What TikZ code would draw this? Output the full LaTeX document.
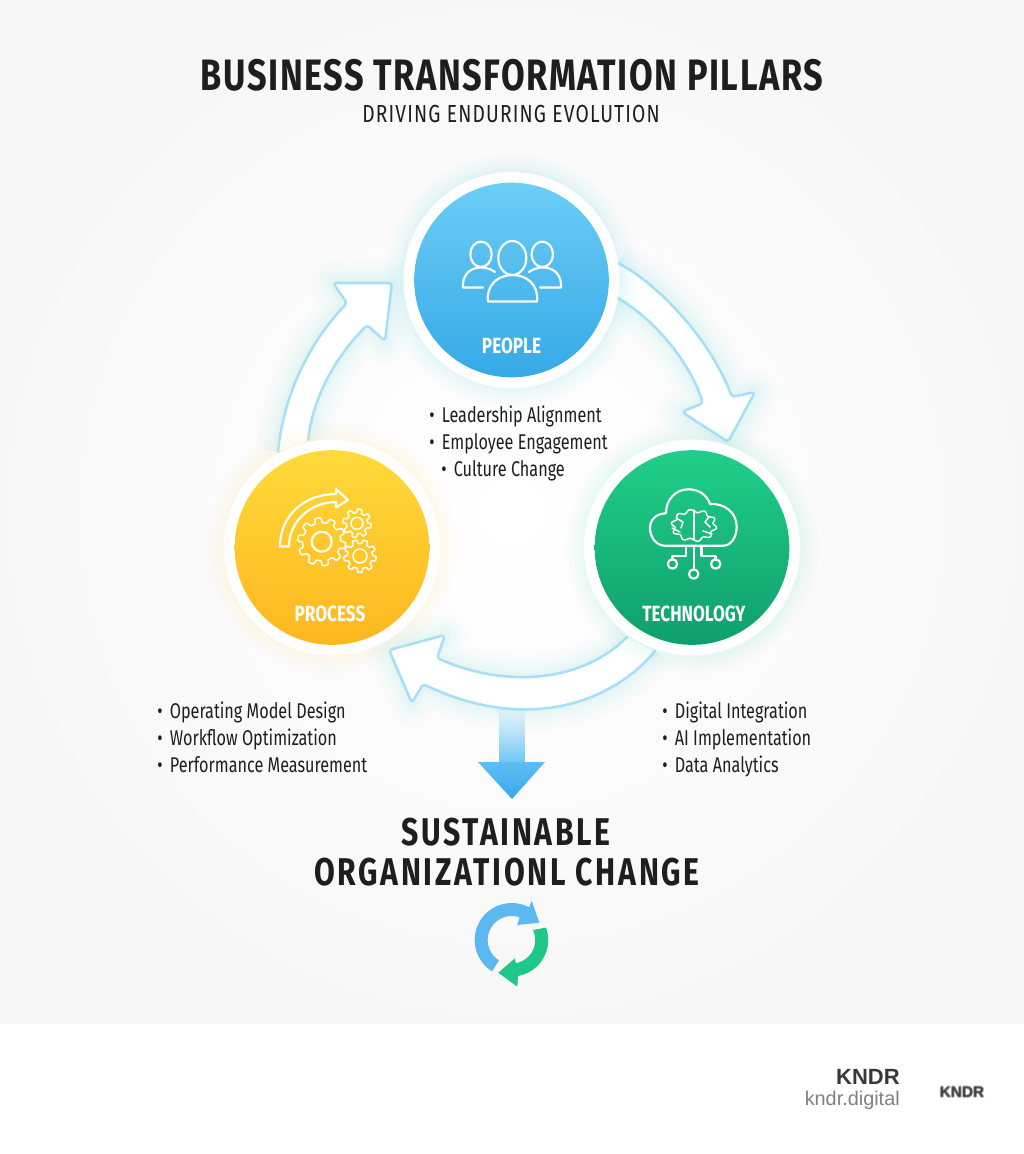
\documentclass[tikz,border=0pt]{standalone}
\usepackage{fontspec}
\setmainfont{Fira Sans}
\newfontfamily\condf[FakeStretch=0.78]{Fira Sans}
\newfontfamily\listf[FakeStretch=0.76]{Fira Sans}
\newfontfamily\brandf{Liberation Sans}
\usetikzlibrary{calc,fadings}
\definecolor{edgeblue}{HTML}{A6E0F6}
\definecolor{glowblue}{HTML}{8FE3F5}
\definecolor{inkdark}{HTML}{1E1E1E}
\definecolor{HTMLa}{HTML}{6CCDF6}
\definecolor{HTMLb}{HTML}{36A9E6}
\definecolor{HTMLc}{HTML}{FFDA3A}
\definecolor{HTMLd}{HTML}{FDB71F}
\definecolor{HTMLe}{HTML}{20CF88}
\definecolor{HTMLf}{HTML}{0F9F6C}
\definecolor{HTMLg}{HTML}{6CC6F5}
\definecolor{HTMLh}{HTML}{5FBEF3}
\definecolor{HTMLi}{HTML}{3AA8EA}
\definecolor{HTMLj}{HTML}{5BB9F0}
\definecolor{HTMLk}{HTML}{1FC888}
\tikzset{
  pillar/.style={circle,draw=none,minimum size=146pt,inner sep=0pt},
  ringn/.style={circle,draw=none,fill=white,minimum size=162pt,inner sep=0pt},
  pillarlabel/.style={text=white,font=\condf\fontsize{16.5}{18}\selectfont\bfseries,inner sep=0pt},
  listline/.style={anchor=base west,text=inkdark,font=\listf\fontsize{16}{18}\selectfont,inner sep=0pt},
  icon/.style={draw=white,line width=1.6pt,line join=round,line cap=round,fill=none},
  iconthin/.style={draw=white,line width=1.1pt,line join=round,line cap=round,fill=none},
  arrowedge/.style={draw=edgeblue,line width=1.9pt,line join=round,line cap=round},
}
\newcommand{\glowpath}[2]{%
  \foreach \wd/\op in {34/0.02,28/0.025,22/0.03,16/0.035,10/0.04,6/0.05}{
    \draw[#1,line width=\wd pt,opacity=\op,line join=round] #2;
  }}
\newcommand{\gearshape}[5]{% cx cy outer inner teeth
  \draw[iconthin] plot[domain=0:360,samples=#5*14,smooth cycle] ({#1+(#4+(#3-#4)*min(1,max(0,0.5+1.6*sin(#5*\x))))*cos(\x)},{#2+(#4+(#3-#4)*min(1,max(0,0.5+1.6*sin(#5*\x))))*sin(\x)});
}
\begin{document}
\begin{tikzpicture}[x=0.75pt,y=-0.75pt]
\useasboundingbox (0,0) rectangle (1024,1154);
\fill[white] (0,0) rectangle (1024,1154);
\shade[inner color=white,outer color=black!3!white,draw=none] (0,0) rectangle (1024,1023);

% ---------- block arrows
\def\arrowA{(618,263) .. controls (655,282) and (708,335) .. (732,397) -- (755,392) -- (728,442) -- (682,412) -- (703,403) .. controls (688,358) and (652,318) .. (618,298)}
\def\arrowB{(278,452) .. controls (284,390) and (312,340) .. (347,303) -- (333,283) -- (392,283) -- (385,341) -- (367,325) .. controls (338,355) and (314,392) .. (308,440)}
\def\arrowC{(655,651) .. controls (615,700) and (530,735) .. (423,684) -- (412,703) -- (389,650) -- (445,635) -- (437,658) .. controls (510,690) and (585,680) .. (627,637)}
\foreach \pth in {\arrowA,\arrowB,\arrowC}{
  \glowpath{glowblue}{\pth}
  \fill[white,rounded corners=2.5pt] \pth -- cycle;
  \draw[arrowedge,rounded corners=2.5pt] \pth;
}

% ---------- pillar circles
\foreach \cx/\cy/\gc in {511.5/280/8FE3F5,332/547.5/FFF0A8,692/547.5/9FEBD8}{
  \definecolor{gc}{HTML}{\gc}
  \foreach \wd/\op in {190/0.03,184/0.035,178/0.04,172/0.05,167/0.06}{
    \fill[gc,opacity=\op] (\cx,\cy) circle[radius=\wd*0.5pt];
  }
}
\node[ringn] (peoplering) at (511.5,280) {};
\node[ringn] (processring) at (332,547.5) {};
\node[ringn] (techring) at (692,547.5) {};
\node[pillar,top color=HTMLa,bottom color=HTMLb] (people) at (511.5,280) {};
\node[pillar,top color=HTMLc,bottom color=HTMLd] (process) at (332,547.5) {};
\node[pillar,top color=HTMLe,bottom color=HTMLf] (technology) at (692,547.5) {};

\node[pillarlabel] (peoplelabel) at (511.5,345.5) {PEOPLE};
\node[pillarlabel] (processlabel) at (330,613.5) {PROCESS};
\node[pillarlabel] (techlabel) at (694,613.5) {TECHNOLOGY};

% ---------- people icon
\draw[icon] (512.3,258) ellipse[x radius=14,y radius=17];
\draw[icon] (488,301.5) .. controls (486,285) and (498,275) .. (512.3,275) .. controls (527,275) and (539,285) .. (537,301.5) -- cycle;
\draw[icon] (481,254.3) ellipse[x radius=10.7,y radius=12.7];
\draw[icon] (483,287.5) -- (463,287.5) .. controls (462,275) and (470,267.5) .. (481,267.5) .. controls (486,267.5) and (491,269) .. (495,272);
\draw[icon] (542.3,254.3) ellipse[x radius=10.7,y radius=12.7];
\draw[icon] (540,287.5) -- (561,287.5) .. controls (562,275) and (554,267.5) .. (543,267.5) .. controls (538,267.5) and (533,269) .. (529,272);

% ---------- process icon
\draw[icon] (280,546.5) .. controls (280,515) and (305,494) .. (336,494) -- (336,489) -- (348,500) -- (336,507.5) -- (336,502) .. controls (312,502) and (289,520) .. (289,546.5) -- cycle;
\gearshape{321.7}{541.7}{24}{19}{10}
\draw[icon] (321.7,541.7) circle[radius=10];
\gearshape{357}{523.3}{14.2}{10.5}{8}
\draw[iconthin] (357,523.3) circle[radius=6];
\gearshape{360}{556}{16.3}{12.5}{9}
\draw[iconthin] (360,556) circle[radius=7];

% ---------- technology icon
\draw[icon] (665,545.7) .. controls (656,545.7) and (650,537) .. (650,528) .. controls (650,519) and (657,513.5) .. (666,513.3) .. controls (666,499) and (676,489.3) .. (688.3,489.3) .. controls (699,489.3) and (707,495) .. (710,504) .. controls (725,503) and (736.7,513) .. (736.7,526.7) .. controls (736.7,537) and (731,545.7) .. (723.3,545.7) -- cycle;
\draw[iconthin] plot[domain=90:270,samples=85,smooth] ({694-0.5+(20.5+1.8*sin(10*\x))*cos(\x)},{525.5+(14.5+1.5*sin(10*\x))*sin(\x)});
\draw[iconthin] plot[domain=-90:90,samples=85,smooth] ({694+0.5+(20.5+1.8*sin(10*\x))*cos(\x)},{525.5+(14.5+1.5*sin(10*\x))*sin(\x)});
\draw[iconthin] (694,510) -- (694,540);
\draw[iconthin] (676,518) -- (683,522) -- (681,528) (672,528) -- (680,532) (709,517) -- (705,522) -- (710,527) (703,531) -- (712,534);
\draw[icon] (686,546) -- (686,556) -- (672.5,556) -- (672.5,559.5);
\draw[icon] (693.7,546) -- (693.7,569.5);
\draw[icon] (701.5,546) -- (701.5,556) -- (715.5,556) -- (715.5,559.5);
\draw[icon] (672.5,564) circle[radius=4.7];
\draw[icon] (693.7,574) circle[radius=4.7];
\draw[icon] (715.7,564) circle[radius=4.7];

% ---------- lists
\node[listline] (l1) at (429,422) {•\hspace{5.5pt}Leadership Alignment};
\node[listline] (l2) at (429,449) {•\hspace{5.5pt}Employee Engagement};
\node[listline] (l3) at (441,476) {•\hspace{5.5pt}Culture Change};
\node[listline] (p1) at (157,718) {•\hspace{5.5pt}Operating Model Design};
\node[listline] (p2) at (157,745) {•\hspace{5.5pt}Workflow Optimization};
\node[listline] (p3) at (157,772) {•\hspace{5.5pt}Performance Measurement};
\node[listline] (t1) at (662,718) {•\hspace{5.5pt}Digital Integration};
\node[listline] (t2) at (662,745) {•\hspace{5.5pt}AI Implementation};
\node[listline] (t3) at (662,772) {•\hspace{5.5pt}Data Analytics};

% ---------- down arrow
\fill[HTMLg,path fading=north] (499,706) rectangle (525,763);
\shade[top color=HTMLh,bottom color=HTMLi,draw=none] (478,762) -- (545,762) -- (512,799) -- cycle;

% ---------- titles
\node[text=inkdark,font=\condf\fontsize{33}{36}\selectfont\bfseries\addfontfeature{LetterSpace=3.5},inner sep=0pt] (title) at (512,75) {BUSINESS TRANSFORMATION PILLARS};
\node[text=inkdark,font=\condf\fontsize{18.5}{22}\selectfont\addfontfeature{LetterSpace=4.7},inner sep=0pt] (subtitle) at (511,114) {DRIVING ENDURING EVOLUTION};
\node[text=inkdark,font=\condf\fontsize{29}{32}\selectfont\bfseries\addfontfeature{LetterSpace=7},inner sep=0pt] (outcome1) at (506,832) {SUSTAINABLE};
\node[text=inkdark,font=\condf\fontsize{29}{32}\selectfont\bfseries\addfontfeature{LetterSpace=7},inner sep=0pt] (outcome2) at (507,872) {ORGANIZATIONL CHANGE};

% ---------- cycle icon
\fill[HTMLj] plot[domain=122:298,samples=40] ({511.7+37*cos(\x)},{940+37*sin(\x)}) -- (531.7,900.7) -- (539.3,922.7) -- (517.3,925) -- (519.5,917.5) -- plot[domain=289:122,samples=40] ({511.7+24*cos(\x)},{940+24*sin(\x)}) -- cycle;
\fill[HTMLk] plot[domain=-20:80,samples=30] ({511.7+36.5*cos(\x)},{940+36.5*sin(\x)}) -- (517.3,986.7) -- (498.3,972.7) -- (515,958.3) -- (516,964) -- plot[domain=80:-25,samples=30] ({511.7+23.5*cos(\x)},{940+23.5*sin(\x)}) -- cycle;

% ---------- brand
\node[anchor=east,text=black!78,font=\brandf\fontsize{16.5}{20}\selectfont\bfseries,inner sep=0pt] (brand) at (900,1077) {KNDR};
\node[anchor=east,text=black!50,font=\brandf\fontsize{14.9}{18}\selectfont,inner sep=0pt] (brandurl) at (900,1100) {kndr.digital};
\foreach \dx/\dy in {0/0,0.9/0,-0.9/0,0/0.8,0/-0.8}{
  \node[text=black,opacity=0.26,font=\brandf\fontsize{11.5}{12}\selectfont\bfseries,inner sep=0pt] at (962+\dx,1092+\dy) {KNDR};
}
\end{tikzpicture}
\end{document}
